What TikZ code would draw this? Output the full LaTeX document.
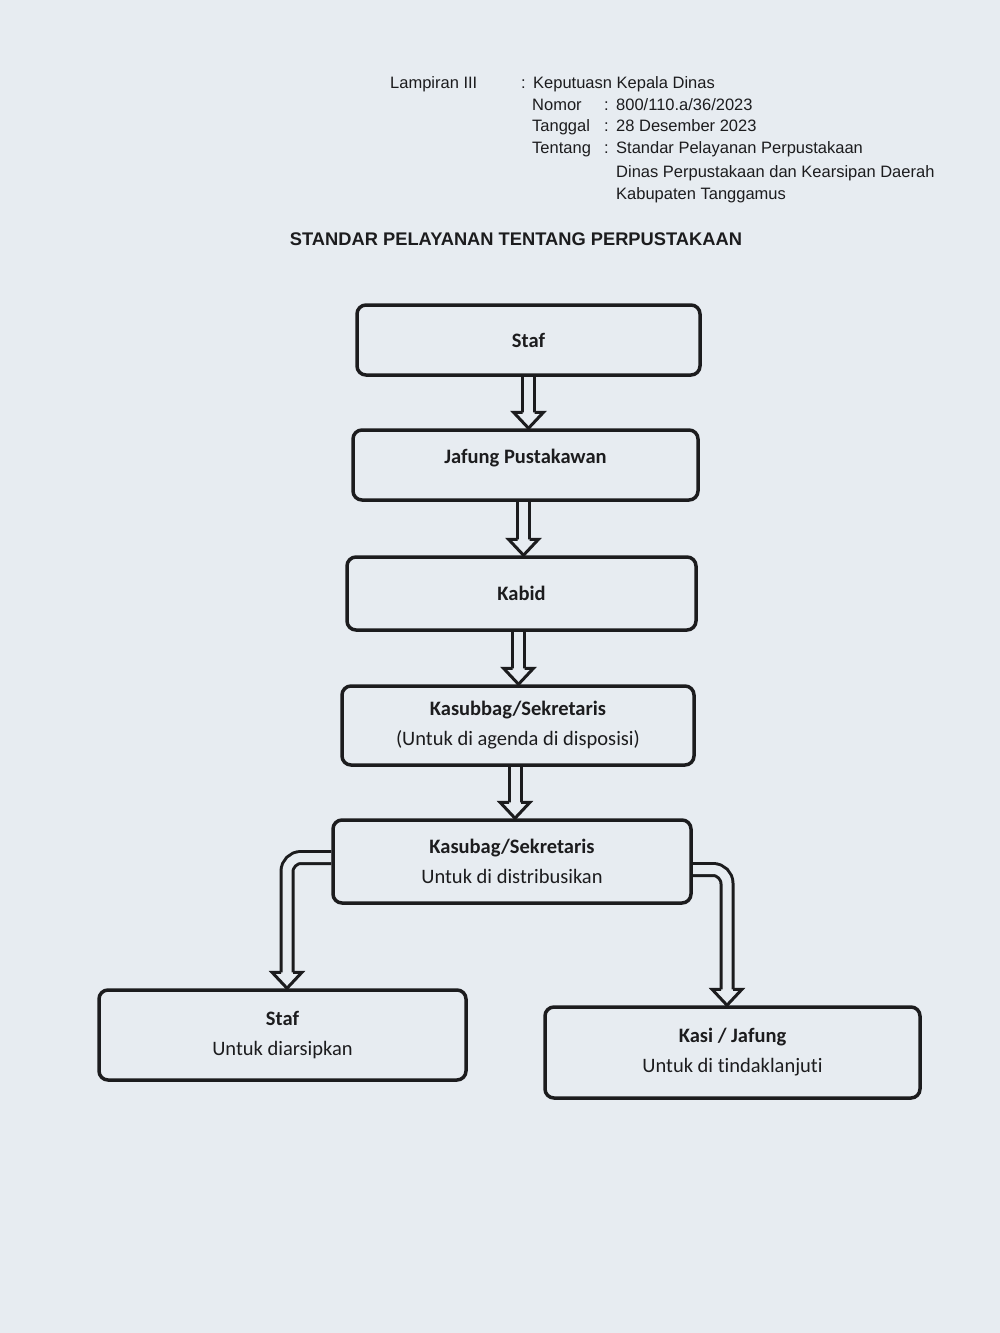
\documentclass[tikz,border=0pt]{standalone}
\usepackage{fontspec}
\setmainfont{Liberation Sans}
\newfontfamily\boxfont[Ligatures=NoCommon]{Carlito}
\usetikzlibrary{calc,backgrounds}
\definecolor{paper}{HTML}{E7ECF1}
\definecolor{ink}{HTML}{1C1C1E}
\begin{document}
\begin{tikzpicture}[x=1pt,y=-1pt,
  hdr/.style={anchor=base west, inner sep=0pt, text=ink, font=\fontsize{16.5}{19}\selectfont},
  box/.style={draw=ink, line width=3.5pt, rounded corners=9pt, inner sep=0pt, align=center, text=ink,
              font=\boxfont\fontsize{20.5}{30}\selectfont},
  shaft/.style={draw=ink, line width=3pt, double=paper, double distance=9pt},
  tiphead/.style={fill=paper, draw=ink, line width=3pt, line join=miter}]
\useasboundingbox (0,0) rectangle (1000,1333);

% header
\node[hdr] (lamp) at (390,88) {Lampiran III};
\node[hdr] (c0) at (521,88) {:};
\node[hdr] (kep) at (533,88) {Keputuasn Kepala Dinas};
\node[hdr] (nom) at (532,110) {Nomor};
\node[hdr] (c1) at (604,110) {:};
\node[hdr] (nomv) at (616,110) {800/110.a/36/2023};
\node[hdr] (tgl) at (532,131) {Tanggal};
\node[hdr] (c2) at (604,131) {:};
\node[hdr] (tglv) at (616,131) {28 Desember 2023};
\node[hdr] (ttg) at (532,153) {Tentang};
\node[hdr] (c3) at (604,153) {:};
\node[hdr] (ttgv1) at (616,153) {Standar Pelayanan Perpustakaan};
\node[hdr] (ttgv2) at (616,177) {Dinas Perpustakaan dan Kearsipan Daerah};
\node[hdr] (ttgv3) at (616,199) {Kabupaten Tanggamus};
\node[anchor=base, inner sep=0pt, text=ink, font=\bfseries\fontsize{18.3}{20}\selectfont] (title) at (516,245)
  {STANDAR PELAYANAN TENTANG PERPUSTAKAAN};

% boxes
\node[box, minimum width=343, minimum height=70] (s1) at (528.5,340) {\textbf{Staf}};
\node[box, minimum width=345, minimum height=70] (s2) at (525.5,465) {\raisebox{18pt}{\textbf{Jafung Pustakawan}}};
\node[box, minimum width=349, minimum height=73] (s3) at (521.5,593.5) {\textbf{Kabid}};
\node[box, minimum width=352, minimum height=79] (s4) at (518,725.5) {\textbf{Kasubbag/Sekretaris}\\(Untuk di agenda di disposisi)};
\node[box, minimum width=358, minimum height=83] (s5) at (512,861.5) {\textbf{Kasubag/Sekretaris}\\Untuk di distribusikan};
\node[box, minimum width=367, minimum height=90] (s6) at (282.5,1035) {\textbf{Staf}\\Untuk diarsipkan};
\node[box, minimum width=375, minimum height=91] (s7) at (732.5,1052.5) {\textbf{Kasi / Jafung}\\Untuk di tindaklanjuti};

\newcommand\headat[1]{\filldraw[tiphead] ($(#1)+(-6,-16)$) -- ($(#1)+(-15,-16)$) -- (#1) -- ($(#1)+(15,-16)$) -- ($(#1)+(6,-16)$);}

\begin{scope}[on background layer]
\fill[paper] (0,0) rectangle (1000,1333);
\coordinate (t1) at (s1.south |- s2.north);
\coordinate (t2) at ($(s2.south |- s3.north)+(-2,0)$);
\coordinate (t3) at ($(s3.south |- s4.north)+(-3,0)$);
\coordinate (t4) at ($(s4.south |- s5.north)+(-3,0)$);
\draw[shaft] (s1.south -| t1) -- ($(t1)+(0,-15)$); \headat{t1}
\draw[shaft] (s2.south -| t2) -- ($(t2)+(0,-15)$); \headat{t2}
\draw[shaft] (s3.south -| t3) -- ($(t3)+(0,-15)$); \headat{t3}
\draw[shaft] (s4.south -| t4) -- ($(t4)+(0,-15)$); \headat{t4}
\coordinate (tl) at ($(s6.north)+(4.5,0)$);
\coordinate (tr) at ($(s7.north)+(-5.5,0)$);
\draw[shaft, rounded corners=14pt] ($(s5.west)+(0,-4)$) -| ($(tl)+(0,-15)$); \headat{tl}
\draw[shaft, rounded corners=14pt] ($(s5.east)+(0,8)$) -| ($(tr)+(0,-15)$); \headat{tr}
\end{scope}
\end{tikzpicture}
\end{document}
